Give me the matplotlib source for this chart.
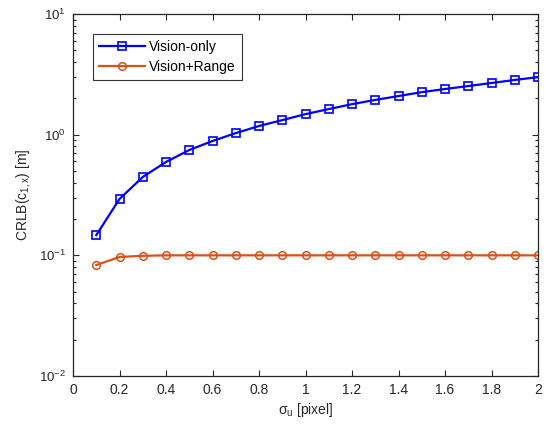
import matplotlib
matplotlib.use("Agg")
import matplotlib.pyplot as plt
import numpy as np

plt.rcParams['font.family'] = ['Liberation Sans', 'DejaVu Sans']
plt.rcParams['mathtext.fontset'] = 'custom'
plt.rcParams['mathtext.rm'] = 'Liberation Sans'
plt.rcParams['mathtext.it'] = 'Liberation Sans'

sigma_u = [0.1, 0.2, 0.3, 0.4, 0.5, 0.6, 0.7, 0.8, 0.9, 1.0,
           1.1, 1.2, 1.3, 1.4, 1.5, 1.6, 1.7, 1.8, 1.9, 2.0]
vision_only = [0.147, 0.293, 0.446, 0.594, 0.746, 0.886, 1.03, 1.18, 1.32, 1.48,
               1.63, 1.79, 1.94, 2.09, 2.25, 2.39, 2.53, 2.68, 2.84, 3.0]
vision_range = [0.083, 0.097, 0.099, 0.100, 0.100, 0.100, 0.100, 0.100, 0.100, 0.100,
                0.100, 0.100, 0.100, 0.100, 0.100, 0.100, 0.100, 0.100, 0.100, 0.100]
x_ticks = [0, 0.2, 0.4, 0.6, 0.8, 1, 1.2, 1.4, 1.6, 1.8, 2]
x_tick_labels = ['0', '0.2', '0.4', '0.6', '0.8', '1', '1.2', '1.4', '1.6', '1.8', '2']

blue = '#0000FF'
orange = '#D95319'

fig = plt.figure(figsize=(5.46, 4.24), dpi=100)
ax = fig.add_axes([73/546, 1 - 376/424, 465/546, 362/424])

ax.plot(sigma_u, vision_only, color=blue, lw=1.6, marker='s', ms=6,
        mfc='none', mec=blue, mew=1.2, label='Vision-only')
ax.plot(sigma_u, vision_range, color=orange, lw=1.6, marker='o', ms=5.5,
        mfc='none', mec=orange, mew=1.1, label='Vision+Range')

ax.set_yscale('log')
ax.set_ylim(1e-2, 1e1)
ax.set_xlim(0, 2)
ax.set_xticks(x_ticks)
ax.set_xticklabels(x_tick_labels)
ax.set_yticks([1e-2, 1e-1, 1e0, 1e1])
ax.set_yticklabels(['$10^{-2}$', '$10^{-1}$', '$10^{0}$', '$10^{1}$'])

ax.tick_params(which='both', direction='in', top=True, right=True, labelsize=10,
               width=0.8, color='#262626', labelcolor='#262626')
ax.tick_params(axis='y', labelsize=9.5, pad=5)
ax.tick_params(which='major', length=4.5)
ax.tick_params(which='minor', length=2.5)
ax.tick_params(axis='x', pad=5)
for s in ax.spines.values():
    s.set_linewidth(0.9)
    s.set_color('#262626')

ax.set_xlabel(r'$\sigma_u$ [pixel]', fontsize=10, labelpad=3, color='#262626')
ax.set_ylabel(r'CRLB(c$_{1,x}$) [m]', fontsize=10, labelpad=4, color='#262626')

leg = ax.legend(loc='upper left', bbox_to_anchor=(20/465, 1 - 20/362), fontsize=10,
                frameon=True, fancybox=False, edgecolor='black', handlelength=3.3,
                borderpad=0.45, labelspacing=0.4, handletextpad=0.3,
                borderaxespad=0)
leg.get_frame().set_linewidth(0.8)

fig.savefig('out.png', dpi=100)
